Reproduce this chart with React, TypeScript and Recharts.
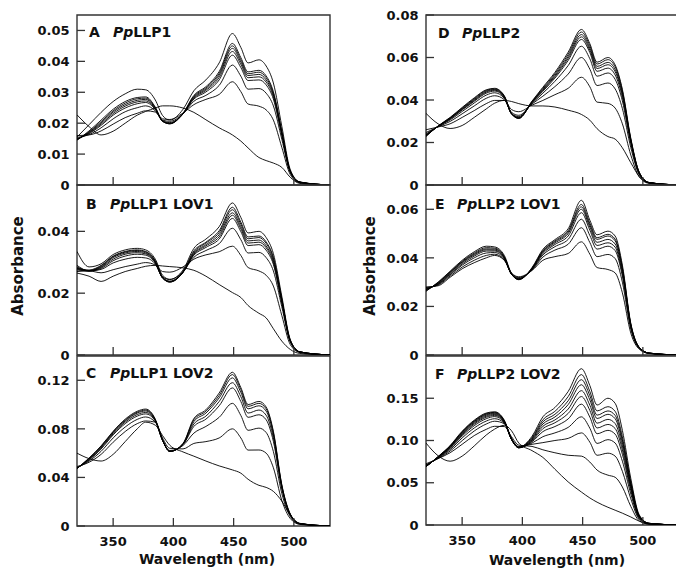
import React from 'react';
import { LineChart, Line, XAxis, YAxis, ReferenceArea } from 'recharts';

const wavelengths = [320, 330, 340, 350, 360, 370, 377, 385, 391, 397, 408, 417, 427, 438, 449, 456, 462, 471, 477, 483, 490, 497, 505, 530];
const xTicks = [350, 400, 450, 500];
const xTickLabels = ['350', '400', '450', '500'];

// Panel A: PpLLP1
const panelA = [
  [0.0155, 0.0195, 0.0235, 0.027, 0.0295, 0.031, 0.0308, 0.0275, 0.0225, 0.021, 0.0245, 0.0305, 0.034, 0.0395, 0.049, 0.0445, 0.0395, 0.0405, 0.0385, 0.033, 0.019, 0.005, 0.001, 0],
  [0.0145, 0.0175, 0.021, 0.0245, 0.027, 0.0283, 0.0285, 0.0252, 0.0207, 0.0198, 0.0232, 0.029, 0.0318, 0.0367, 0.0458, 0.0412, 0.0366, 0.0371, 0.0353, 0.0302, 0.0174, 0.0046, 0.0009, 0],
  [0.0146, 0.0172, 0.0205, 0.024, 0.0265, 0.0279, 0.0281, 0.025, 0.0206, 0.0198, 0.0231, 0.0287, 0.0314, 0.0361, 0.045, 0.0405, 0.036, 0.0365, 0.0347, 0.0297, 0.0171, 0.0045, 0.0009, 0],
  [0.0147, 0.017, 0.0201, 0.0236, 0.026, 0.0274, 0.0277, 0.0248, 0.0206, 0.0199, 0.023, 0.0284, 0.031, 0.0355, 0.0442, 0.0398, 0.0354, 0.0358, 0.034, 0.0292, 0.0168, 0.0044, 0.0009, 0],
  [0.0148, 0.0168, 0.0197, 0.0231, 0.0255, 0.0269, 0.0272, 0.0246, 0.0207, 0.02, 0.023, 0.0281, 0.0306, 0.0348, 0.0432, 0.039, 0.0347, 0.035, 0.0333, 0.0286, 0.0165, 0.0044, 0.0009, 0],
  [0.015, 0.0166, 0.0193, 0.0226, 0.0249, 0.0263, 0.0267, 0.0244, 0.0208, 0.0202, 0.023, 0.0278, 0.0301, 0.034, 0.042, 0.038, 0.0338, 0.034, 0.0324, 0.0278, 0.016, 0.0043, 0.0009, 0],
  [0.0154, 0.0163, 0.0185, 0.0214, 0.0237, 0.025, 0.0256, 0.024, 0.021, 0.0206, 0.0231, 0.0271, 0.029, 0.0322, 0.0388, 0.0352, 0.031, 0.0312, 0.0297, 0.0256, 0.0148, 0.004, 0.0008, 0],
  [0.016, 0.0162, 0.0175, 0.0197, 0.0218, 0.0232, 0.024, 0.0236, 0.0214, 0.0212, 0.0233, 0.026, 0.0277, 0.0293, 0.0334, 0.0302, 0.0262, 0.0255, 0.0243, 0.021, 0.0122, 0.0034, 0.0007, 0],
  [0.0227, 0.0189, 0.0162, 0.0174, 0.02, 0.0226, 0.0238, 0.0249, 0.0256, 0.0256, 0.0249, 0.0235, 0.0211, 0.0185, 0.0162, 0.0142, 0.012, 0.0089, 0.0079, 0.0071, 0.0057, 0.0025, 0.0005, 0],
];

// Panel B: PpLLP1 LOV1
const panelB = [
  [0.0335, 0.0285, 0.0295, 0.0325, 0.034, 0.0345, 0.034, 0.031, 0.0258, 0.0245, 0.0275, 0.0345, 0.0375, 0.0415, 0.0492, 0.0445, 0.0395, 0.04, 0.038, 0.0328, 0.019, 0.005, 0.001, 0],
  [0.028, 0.0275, 0.029, 0.032, 0.0335, 0.034, 0.0335, 0.0305, 0.0252, 0.0238, 0.027, 0.0337, 0.0365, 0.0402, 0.0478, 0.043, 0.0382, 0.0385, 0.0366, 0.0316, 0.0181, 0.0048, 0.001, 0],
  [0.0285, 0.0273, 0.0288, 0.0318, 0.0333, 0.0338, 0.0333, 0.0303, 0.025, 0.0236, 0.0268, 0.0333, 0.0362, 0.0396, 0.047, 0.0423, 0.0376, 0.038, 0.0361, 0.0312, 0.0179, 0.0047, 0.001, 0],
  [0.029, 0.0272, 0.0285, 0.0315, 0.033, 0.0335, 0.033, 0.0301, 0.0249, 0.0236, 0.0267, 0.0329, 0.0357, 0.0389, 0.046, 0.0415, 0.0369, 0.0372, 0.0353, 0.0305, 0.0175, 0.0046, 0.001, 0],
  [0.0282, 0.0272, 0.0283, 0.031, 0.0326, 0.0331, 0.0327, 0.0299, 0.0249, 0.0237, 0.0267, 0.0326, 0.0353, 0.0382, 0.0452, 0.0408, 0.0362, 0.0365, 0.0347, 0.0299, 0.0172, 0.0045, 0.001, 0],
  [0.0278, 0.0272, 0.028, 0.0305, 0.032, 0.0326, 0.0323, 0.0297, 0.025, 0.0239, 0.0268, 0.0323, 0.0348, 0.0375, 0.0442, 0.0399, 0.0354, 0.0357, 0.0339, 0.0293, 0.0168, 0.0045, 0.001, 0],
  [0.0275, 0.0272, 0.0277, 0.0298, 0.031, 0.0316, 0.0314, 0.0294, 0.0253, 0.0244, 0.027, 0.0316, 0.0338, 0.036, 0.041, 0.0373, 0.033, 0.0332, 0.0315, 0.0272, 0.0156, 0.0042, 0.0009, 0],
  [0.027, 0.0272, 0.0266, 0.0276, 0.0286, 0.0294, 0.0299, 0.0291, 0.027, 0.0268, 0.0285, 0.031, 0.0324, 0.0334, 0.0352, 0.0322, 0.0283, 0.0272, 0.0258, 0.0223, 0.0128, 0.0034, 0.0008, 0],
  [0.0265, 0.0255, 0.0238, 0.0255, 0.027, 0.028, 0.0287, 0.029, 0.0288, 0.0286, 0.0282, 0.0274, 0.0255, 0.0228, 0.0202, 0.0186, 0.016, 0.0135, 0.012, 0.0085, 0.0045, 0.0018, 0.0005, 0],
];

// Panel C: PpLLP1 LOV2
const panelC = [
  [0.0474, 0.056, 0.066, 0.078, 0.088, 0.0945, 0.0963, 0.088, 0.071, 0.0615, 0.068, 0.0885, 0.0957, 0.1095, 0.1266, 0.114, 0.1, 0.1026, 0.098, 0.078, 0.034, 0.01, 0.002, 0],
  [0.0474, 0.0557, 0.0655, 0.0775, 0.0872, 0.0937, 0.0955, 0.0875, 0.0708, 0.0614, 0.0678, 0.0875, 0.0945, 0.1075, 0.1247, 0.1123, 0.0985, 0.101, 0.0965, 0.0768, 0.0335, 0.0098, 0.002, 0],
  [0.0475, 0.0553, 0.065, 0.0768, 0.0865, 0.093, 0.0947, 0.0872, 0.0706, 0.0614, 0.0675, 0.086, 0.093, 0.1055, 0.122, 0.11, 0.0965, 0.099, 0.0946, 0.0753, 0.0328, 0.0096, 0.002, 0],
  [0.0476, 0.0548, 0.0642, 0.076, 0.0855, 0.0918, 0.0935, 0.0868, 0.0705, 0.0615, 0.0672, 0.084, 0.0905, 0.1025, 0.118, 0.1065, 0.093, 0.0955, 0.0912, 0.0726, 0.0317, 0.0093, 0.002, 0],
  [0.0477, 0.0543, 0.0634, 0.075, 0.0843, 0.0905, 0.0923, 0.0864, 0.0705, 0.0617, 0.067, 0.082, 0.088, 0.099, 0.1137, 0.1025, 0.0895, 0.0916, 0.0875, 0.0697, 0.0304, 0.009, 0.0018, 0],
  [0.048, 0.0535, 0.0615, 0.0725, 0.0815, 0.0878, 0.0898, 0.0855, 0.0708, 0.0622, 0.0663, 0.0765, 0.082, 0.0895, 0.101, 0.091, 0.0788, 0.0806, 0.077, 0.0613, 0.0268, 0.0079, 0.0016, 0],
  [0.049, 0.0525, 0.059, 0.069, 0.0778, 0.0843, 0.0865, 0.0855, 0.0725, 0.064, 0.0635, 0.068, 0.0695, 0.0725, 0.08, 0.0725, 0.0625, 0.0626, 0.06, 0.048, 0.021, 0.0062, 0.0013, 0],
  [0.06, 0.0555, 0.0535, 0.059, 0.0695, 0.08, 0.0855, 0.083, 0.0745, 0.0665, 0.061, 0.0575, 0.0535, 0.0495, 0.0462, 0.0435, 0.0385, 0.0335, 0.0318, 0.0285, 0.0205, 0.009, 0.0022, 0],
];

// Panel D: PpLLP2
const panelD = [
  [0.0228, 0.0278, 0.0318, 0.0365, 0.041, 0.0448, 0.0455, 0.042, 0.0335, 0.0313, 0.0395, 0.046, 0.053, 0.0625, 0.0732, 0.0665, 0.0578, 0.06, 0.0565, 0.045, 0.022, 0.006, 0.0012, 0],
  [0.023, 0.0277, 0.0316, 0.0362, 0.0406, 0.0445, 0.0452, 0.0418, 0.0335, 0.0314, 0.0393, 0.0455, 0.0523, 0.0615, 0.072, 0.0655, 0.0569, 0.059, 0.0556, 0.0443, 0.0216, 0.0059, 0.0012, 0],
  [0.0232, 0.0277, 0.0314, 0.0359, 0.0402, 0.0441, 0.0449, 0.0416, 0.0335, 0.0315, 0.0391, 0.045, 0.0516, 0.0605, 0.0708, 0.0644, 0.0558, 0.0577, 0.0544, 0.0433, 0.0212, 0.0058, 0.0012, 0],
  [0.0234, 0.0276, 0.0312, 0.0356, 0.0398, 0.0437, 0.0446, 0.0414, 0.0335, 0.0316, 0.0389, 0.0446, 0.051, 0.0596, 0.0697, 0.0634, 0.0548, 0.0566, 0.0533, 0.0425, 0.0208, 0.0057, 0.0011, 0],
  [0.0236, 0.0276, 0.031, 0.0353, 0.0394, 0.0432, 0.0442, 0.0412, 0.0335, 0.0318, 0.0387, 0.0441, 0.0503, 0.0586, 0.0685, 0.0623, 0.0535, 0.055, 0.0518, 0.0413, 0.0202, 0.0055, 0.0011, 0],
  [0.024, 0.0275, 0.0306, 0.0346, 0.0386, 0.0423, 0.0434, 0.0408, 0.0337, 0.0322, 0.0384, 0.0432, 0.0488, 0.0562, 0.0653, 0.0594, 0.0512, 0.0527, 0.0497, 0.0396, 0.0194, 0.0053, 0.0011, 0],
  [0.0247, 0.0274, 0.0299, 0.0335, 0.0372, 0.0408, 0.042, 0.0402, 0.0342, 0.0328, 0.0381, 0.0418, 0.0463, 0.0522, 0.06, 0.0545, 0.0468, 0.048, 0.0452, 0.036, 0.0176, 0.0048, 0.001, 0],
  [0.026, 0.0273, 0.0288, 0.0318, 0.035, 0.0383, 0.0398, 0.0398, 0.0355, 0.0345, 0.0376, 0.0398, 0.0425, 0.0455, 0.0507, 0.0462, 0.039, 0.0384, 0.0362, 0.0288, 0.0141, 0.0038, 0.0008, 0],
  [0.0337, 0.0288, 0.0266, 0.028, 0.0318, 0.0358, 0.0385, 0.0398, 0.0393, 0.0383, 0.0372, 0.0372, 0.0367, 0.0352, 0.0332, 0.0305, 0.0265, 0.0228, 0.0216, 0.0175, 0.0105, 0.004, 0.001, 0],
];

// Panel E: PpLLP2 LOV1
const panelE = [
  [0.0262, 0.03, 0.0345, 0.039, 0.0425, 0.0448, 0.0445, 0.041, 0.0335, 0.031, 0.036, 0.0435, 0.0475, 0.052, 0.0637, 0.0555, 0.0495, 0.051, 0.049, 0.037, 0.013, 0.0032, 0.0008, 0],
  [0.0265, 0.0298, 0.0342, 0.0386, 0.042, 0.0442, 0.044, 0.0405, 0.0333, 0.0311, 0.0358, 0.043, 0.047, 0.0512, 0.062, 0.0543, 0.0483, 0.0497, 0.0477, 0.036, 0.0127, 0.0031, 0.0008, 0],
  [0.0268, 0.0296, 0.034, 0.0383, 0.0416, 0.0437, 0.0436, 0.0403, 0.0332, 0.0312, 0.0356, 0.0427, 0.0466, 0.0506, 0.061, 0.0535, 0.0476, 0.049, 0.047, 0.0355, 0.0125, 0.0031, 0.0008, 0],
  [0.027, 0.0294, 0.0337, 0.038, 0.0412, 0.0433, 0.0432, 0.04, 0.0332, 0.0313, 0.0355, 0.0423, 0.0461, 0.05, 0.06, 0.0526, 0.0464, 0.0476, 0.0457, 0.0345, 0.0122, 0.003, 0.0008, 0],
  [0.0272, 0.0292, 0.0333, 0.0375, 0.0407, 0.0428, 0.0428, 0.0398, 0.0332, 0.0314, 0.0354, 0.0418, 0.0455, 0.049, 0.0586, 0.0514, 0.0451, 0.0462, 0.0444, 0.0335, 0.0118, 0.003, 0.0008, 0],
  [0.0275, 0.029, 0.033, 0.037, 0.04, 0.042, 0.0422, 0.0395, 0.0333, 0.0316, 0.0352, 0.0412, 0.0446, 0.0476, 0.0559, 0.0492, 0.0436, 0.0448, 0.043, 0.0325, 0.0115, 0.0029, 0.0007, 0],
  [0.0278, 0.0288, 0.0325, 0.0362, 0.039, 0.041, 0.0415, 0.0392, 0.0335, 0.0319, 0.035, 0.0403, 0.0432, 0.0456, 0.0524, 0.0463, 0.0405, 0.0414, 0.0397, 0.03, 0.0106, 0.0027, 0.0007, 0],
  [0.028, 0.0285, 0.032, 0.0355, 0.038, 0.04, 0.041, 0.039, 0.0338, 0.0322, 0.0348, 0.039, 0.0405, 0.0418, 0.0466, 0.0415, 0.036, 0.0352, 0.0338, 0.0256, 0.009, 0.0024, 0.0006, 0],
];

// Panel F: PpLLP2 LOV2
const panelF = [
  [0.069, 0.081, 0.094, 0.111, 0.124, 0.1325, 0.134, 0.124, 0.102, 0.092, 0.105, 0.128, 0.139, 0.158, 0.185, 0.165, 0.142, 0.15, 0.144, 0.112, 0.055, 0.012, 0.002, 0],
  [0.069, 0.0808, 0.0935, 0.1102, 0.1232, 0.1318, 0.1333, 0.1235, 0.1018, 0.0918, 0.1035, 0.1245, 0.1345, 0.152, 0.178, 0.158, 0.135, 0.14, 0.1345, 0.1045, 0.051, 0.011, 0.002, 0],
  [0.069, 0.0806, 0.0931, 0.1096, 0.1225, 0.131, 0.1326, 0.123, 0.1015, 0.0916, 0.1025, 0.122, 0.131, 0.147, 0.172, 0.153, 0.13, 0.135, 0.1297, 0.1008, 0.049, 0.0107, 0.002, 0],
  [0.0692, 0.0804, 0.0926, 0.1088, 0.1216, 0.13, 0.1318, 0.1226, 0.1013, 0.0915, 0.1015, 0.1195, 0.1278, 0.1425, 0.166, 0.148, 0.126, 0.131, 0.1258, 0.0978, 0.0477, 0.0104, 0.002, 0],
  [0.0694, 0.0802, 0.092, 0.1078, 0.1205, 0.1288, 0.1308, 0.1222, 0.1012, 0.0914, 0.1005, 0.1168, 0.1243, 0.1372, 0.159, 0.1418, 0.1205, 0.125, 0.12, 0.0934, 0.0455, 0.0099, 0.0019, 0],
  [0.0696, 0.08, 0.0913, 0.1067, 0.1192, 0.1275, 0.1297, 0.1218, 0.1012, 0.0914, 0.0995, 0.114, 0.121, 0.132, 0.152, 0.1356, 0.1148, 0.119, 0.1142, 0.0889, 0.0433, 0.0095, 0.0018, 0],
  [0.07, 0.0797, 0.0905, 0.1053, 0.1175, 0.1258, 0.1283, 0.1213, 0.1013, 0.0915, 0.0985, 0.1105, 0.1165, 0.1255, 0.143, 0.1277, 0.108, 0.112, 0.1075, 0.0837, 0.0407, 0.0089, 0.0017, 0],
  [0.0705, 0.0793, 0.0892, 0.103, 0.1148, 0.123, 0.1258, 0.1205, 0.1016, 0.092, 0.097, 0.1045, 0.109, 0.1155, 0.128, 0.1145, 0.0965, 0.101, 0.097, 0.0755, 0.0367, 0.008, 0.0016, 0],
  [0.0712, 0.0788, 0.0875, 0.0998, 0.1112, 0.1195, 0.1228, 0.1198, 0.1025, 0.0928, 0.0955, 0.0975, 0.1, 0.1025, 0.109, 0.098, 0.0825, 0.085, 0.0815, 0.0635, 0.031, 0.0068, 0.0014, 0],
  [0.0725, 0.0785, 0.0855, 0.0955, 0.1058, 0.1132, 0.1168, 0.1165, 0.1045, 0.0945, 0.093, 0.089, 0.0855, 0.0825, 0.0815, 0.0745, 0.065, 0.059, 0.0565, 0.045, 0.022, 0.005, 0.001, 0],
  [0.097, 0.082, 0.0755, 0.0815, 0.0935, 0.1065, 0.1135, 0.118, 0.1115, 0.097, 0.088, 0.08, 0.066, 0.051, 0.039, 0.032, 0.027, 0.021, 0.0175, 0.014, 0.0095, 0.0045, 0.0012, 0],
];

const yTicksA = [0, 0.01, 0.02, 0.03, 0.04, 0.05];
const yLabelsA = ['0', '0.01', '0.02', '0.03', '0.04', '0.05'];
const yTicksB = [0, 0.02, 0.04];
const yLabelsB = ['0', '0.02', '0.04'];
const yTicksC = [0, 0.04, 0.08, 0.12];
const yLabelsC = ['0', '0.04', '0.08', '0.12'];
const yTicksD = [0, 0.02, 0.04, 0.06, 0.08];
const yLabelsD = ['0', '0.02', '0.04', '0.06', '0.08'];
const yTicksE = [0, 0.02, 0.04, 0.06];
const yLabelsE = ['0', '0.02', '0.04', '0.06'];
const yTicksF = [0, 0.05, 0.1, 0.15];
const yLabelsF = ['0', '0.05', '0.10', '0.15'];

const FONT = '"DejaVu Sans", Verdana, sans-serif';
const INK = '#111';

function buildRows(curves: number[][]) {
  return wavelengths.map((w, i) => {
    const r: Record<string, number> = { w };
    curves.forEach((c, j) => {
      r['c' + j] = c[i];
    });
    return r;
  });
}

type PanelProps = {
  left: number;
  top: number;
  w: number;
  h: number;
  ymax: number;
  yticks: number[];
  ylabels: string[];
  curves: number[][];
  showX: boolean;
};

function Panel({ left, top, w, h, ymax, yticks, ylabels, curves, showX }: PanelProps) {
  const YW = 70;
  const MT = 10;
  const M = 4;
  const XH = showX ? 30 : 12;
  const data = buildRows(curves);

  const YTick = (p: any) => {
    const v = p.payload && p.payload.value;
    let idx = -1;
    yticks.forEach((t, i) => {
      if (Math.abs(t - v) < 1e-9) idx = i;
    });
    return (
      <g>
        <line x1={p.x} y1={p.y} x2={p.x + 8} y2={p.y} stroke="#333" strokeWidth={1.3} />
        <text x={p.x - 7.5} y={p.y} dy="0.36em" textAnchor="end" fontFamily={FONT} fontWeight="bold" fontSize={13} fill={INK}>
          {idx >= 0 ? ylabels[idx] : ''}
        </text>
      </g>
    );
  };

  const XTick = (p: any) => {
    const v = p.payload && p.payload.value;
    const idx = xTicks.indexOf(v);
    return (
      <g>
        <line x1={p.x} y1={p.y} x2={p.x} y2={p.y - 8} stroke="#333" strokeWidth={1.3} />
        {showX ? (
          <text x={p.x} y={p.y + 19.5} textAnchor="middle" fontFamily={FONT} fontWeight="bold" fontSize={13} fill={INK}>
            {idx >= 0 ? xTickLabels[idx] : ''}
          </text>
        ) : null}
      </g>
    );
  };

  return (
    <div style={{ position: 'absolute', left: left - YW, top: top - MT }}>
      <LineChart
        width={YW + w + M}
        height={MT + h + XH + M}
        data={data}
        margin={{ top: MT, right: M, bottom: M, left: 0 }}
      >
        <XAxis
          dataKey="w"
          type="number"
          domain={[320, 530]}
          ticks={xTicks}
          interval={0}
          height={XH}
          tickLine={false}
          axisLine={false}
          tickSize={0}
          tickMargin={0}
          tick={XTick}
          allowDataOverflow
        />
        <YAxis
          type="number"
          domain={[0, ymax]}
          ticks={yticks}
          interval={0}
          width={YW}
          tickLine={false}
          axisLine={false}
          tickSize={0}
          tickMargin={0}
          tick={YTick}
          allowDataOverflow
        />
        <ReferenceArea x1={320} x2={530} y1={0} y2={ymax} fill="none" fillOpacity={0} stroke="#333" strokeWidth={1.4} />
        {curves.map((_, j) => (
          <Line
            key={j}
            dataKey={'c' + j}
            type="monotone"
            stroke="#000"
            strokeWidth={0.9}
            dot={false}
            activeDot={false}
            isAnimationActive={false}
          />
        ))}
      </LineChart>
    </div>
  );
}

function PanelLabel({ x, px, y, letter, rest }: { x: number; px: number; y: number; letter: string; rest: string }) {
  return (
    <text y={y} fontFamily={FONT} fontWeight="bold" fontSize={14} fill={INK}>
      <tspan x={x}>{letter}</tspan>
      <tspan x={px} fontStyle="italic">Pp</tspan>
      <tspan>{rest}</tspan>
    </text>
  );
}

export default function App() {
  return (
    <div style={{ position: 'absolute', left: 0, top: 0, width: 676, height: 570, overflow: 'hidden', background: '#fff' }}>
      <Panel left={77} top={15} w={253} h={170} ymax={0.055} yticks={yTicksA} ylabels={yLabelsA} curves={panelA} showX={false} />
      <Panel left={77} top={185} w={253} h={170} ymax={0.055} yticks={yTicksB} ylabels={yLabelsB} curves={panelB} showX={false} />
      <Panel left={77} top={356} w={253} h={170} ymax={0.14} yticks={yTicksC} ylabels={yLabelsC} curves={panelC} showX={true} />
      <Panel left={426} top={15} w={253} h={170} ymax={0.08} yticks={yTicksD} ylabels={yLabelsD} curves={panelD} showX={false} />
      <Panel left={426} top={185} w={253} h={170} ymax={0.07} yticks={yTicksE} ylabels={yLabelsE} curves={panelE} showX={false} />
      <Panel left={426} top={356} w={253} h={169} ymax={0.2} yticks={yTicksF} ylabels={yLabelsF} curves={panelF} showX={true} />
      <svg width={676} height={570} style={{ position: 'absolute', left: 0, top: 0, pointerEvents: 'none' }}>
        <PanelLabel x={89} px={113} y={36.5} letter="A" rest="LLP1" />
        <PanelLabel x={86} px={110} y={208.5} letter="B" rest="LLP1 LOV1" />
        <PanelLabel x={86} px={110} y={377.5} letter="C" rest="LLP1 LOV2" />
        <PanelLabel x={438} px={462} y={38} letter="D" rest="LLP2" />
        <PanelLabel x={435} px={457} y={209} letter="E" rest="LLP2 LOV1" />
        <PanelLabel x={435} px={457} y={378.5} letter="F" rest="LLP2 LOV2" />
        <text transform="translate(23,266) rotate(-90)" textAnchor="middle" fontFamily={FONT} fontWeight="bold" fontSize={15} fill={INK}>
          Absorbance
        </text>
        <text transform="translate(375,266) rotate(-90)" textAnchor="middle" fontFamily={FONT} fontWeight="bold" fontSize={15} fill={INK}>
          Absorbance
        </text>
        <text x={207} y={564} textAnchor="middle" fontFamily={FONT} fontWeight="bold" fontSize={14} fill={INK}>
          Wavelength (nm)
        </text>
        <text x={557} y={564.5} textAnchor="middle" fontFamily={FONT} fontWeight="bold" fontSize={14} fill={INK}>
          Wavelength (nm)
        </text>
      </svg>
    </div>
  );
}
